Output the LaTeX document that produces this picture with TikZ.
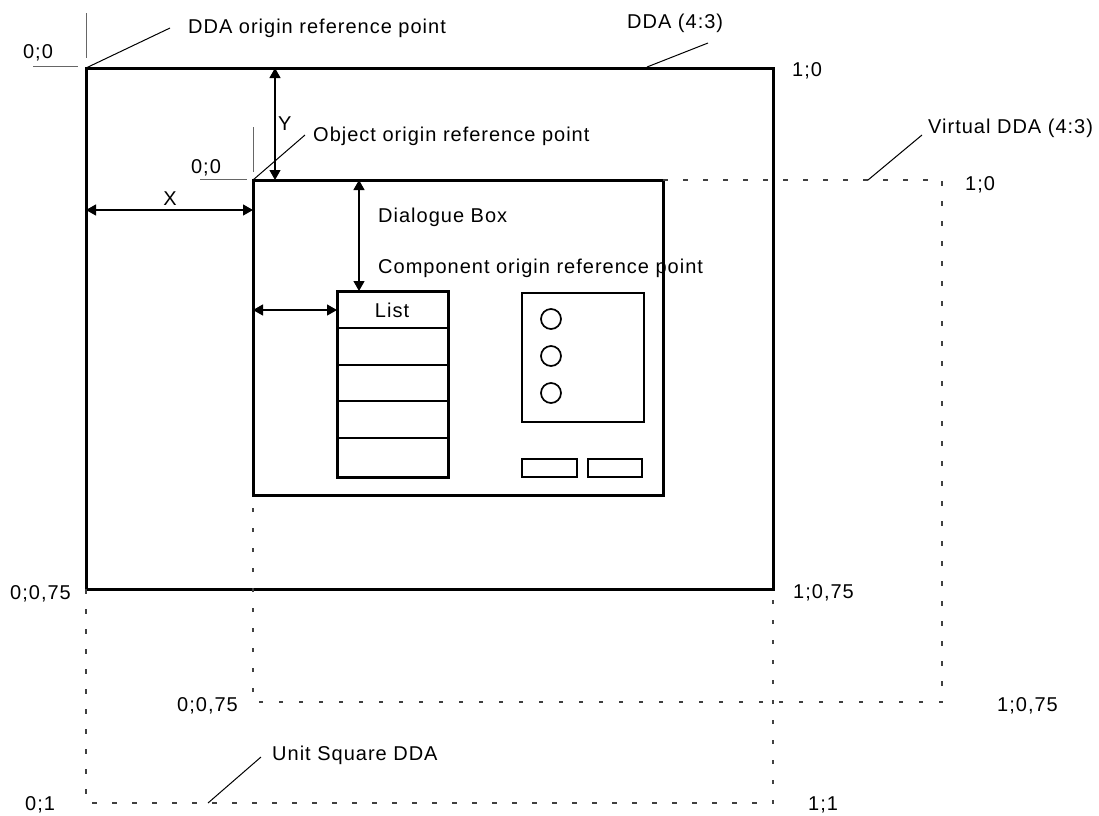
\documentclass[tikz,border=0pt]{standalone}
\usepackage{fontspec}
\setmainfont{Liberation Sans}[LetterSpace=5]
\usetikzlibrary{arrows.meta}
\begin{document}
\begin{tikzpicture}[x=1pt,y=-1pt,
  txt/.style={inner sep=0pt, font=\fontsize{20}{24}\selectfont, anchor=base west},
  frame/.style={line width=3pt, line join=miter},
  thinbox/.style={line width=2pt},
  tick/.style={line width=0.9pt, black!60},
  leader/.style={line width=1pt},
  dim/.style={line width=1.2pt, {Triangle[length=10pt,width=11pt]}-{Triangle[length=10pt,width=11pt]}},
  virt/.style={line width=1.1pt, black!75, dash pattern=on 4.5pt off 15.5pt}]
\path[fill=white] (0,0) rectangle (1099,815);
\useasboundingbox (0,0) rectangle (1099,815);
% corners
\coordinate (ddaTL) at (86,68);
\coordinate (ddaBR) at (773,589);
\coordinate (ddaBL) at (86,589);
\coordinate (ddaTR) at (773,68);
\coordinate (dlgTL) at (253,180);
\coordinate (dlgBR) at (663,495);
\coordinate (dlgTR) at (663,180);
\coordinate (dlgBL) at (253,495);
\coordinate (vTR) at (942,180);
\coordinate (vBR) at (942,702);
\coordinate (vBL) at (253,702);
\coordinate (uBL) at (86,803);
\coordinate (uBR) at (773,803);
% DDA and dialogue
\draw[frame] (ddaTL) rectangle (ddaBR);
\draw[frame] (dlgTL) rectangle (dlgBR);
% virtual DDA
\draw[virt] (dlgTR) -- (vTR) -- (vBR) -- (vBL) -- (dlgBL);
% unit square
\draw[virt] (ddaBL) -- (uBL) -- (uBR) -- (ddaBR);
% list
\coordinate (lstTL) at (337,291);
\coordinate (lstBR) at (448,477);
\draw[frame] (lstTL) rectangle (lstBR);
\foreach \yy/\nm in {328/r1,365/r2,401/r3,438/r4}{
  \coordinate (\nm a) at (337,\yy);
  \coordinate (\nm b) at (448,\yy);
  \draw[thinbox] (\nm a) -- (\nm b);
}
\node[txt, anchor=base] (list) at (392,317) {List};
% radio panel
\coordinate (radTL) at (522,293);
\coordinate (radBR) at (644,422);
\draw[thinbox] (radTL) rectangle (radBR);
\foreach \yy/\nm in {319/c1,356/c2,393/c3}{
  \node[circle, draw, line width=1.7pt, minimum size=20pt, inner sep=0pt] (\nm) at (551,\yy) {};
}
% buttons
\coordinate (b1a) at (522,459); \coordinate (b1b) at (577,477);
\coordinate (b2a) at (588,459); \coordinate (b2b) at (642,477);
\draw[thinbox] (b1a) rectangle (b1b);
\draw[thinbox] (b2a) rectangle (b2b);
% dimension arrows
\coordinate (yA) at (275,68); \coordinate (yB) at (275,180);
\draw[dim] (yA) -- (yB);
\coordinate (xA) at (86,210); \coordinate (xB) at (253,210);
\draw[dim] (xA) -- (xB);
\coordinate (cyA) at (359,180); \coordinate (cyB) at (359,291);
\draw[dim] (cyA) -- (cyB);
\coordinate (cxA) at (253,310); \coordinate (cxB) at (337,310);
\draw[dim] (cxA) -- (cxB);
% ticks
\coordinate (t1a) at (86,13); \coordinate (t1b) at (86,58);
\coordinate (t2a) at (33,66); \coordinate (t2b) at (78,66);
\coordinate (t3a) at (253,127); \coordinate (t3b) at (253,172);
\coordinate (t4a) at (200,179); \coordinate (t4b) at (247,179);
\draw[tick] (t1a) -- (t1b);
\draw[tick] (t2a) -- (t2b);
\draw[tick] (t3a) -- (t3b);
\draw[tick] (t4a) -- (t4b);
% leader ends
\coordinate (l1) at (170,28);
\coordinate (l2a) at (647,67); \coordinate (l2) at (708,43);
\coordinate (l3) at (305,135);
\coordinate (l4a) at (868,180); \coordinate (l4) at (922,135);
\coordinate (l5a) at (208,803); \coordinate (l5) at (261,757);
\draw[leader] (ddaTL) -- (l1);
\draw[leader] (l2a) -- (l2);
\draw[leader] (dlgTL) -- (l3);
\draw[leader] (l4a) -- (l4);
\draw[leader] (l5a) -- (l5);
% texts
\node[txt, anchor=base] (o1) at (38,58) {0;0};
\node[txt] (ddaorig) at (188,33) {DDA origin reference point};
\node[txt] (ddalbl) at (627,28) {DDA (4:3)};
\node[txt] (tr1) at (792,76) {1;0};
\node[txt] (ylbl) at (278,130) {Y};
\node[txt] (objorig) at (313,141) {Object origin reference point};
\node[txt, anchor=base] (o2) at (206,173) {0;0};
\node[txt, anchor=base] (xlbl) at (170,205) {X};
\node[txt] (vlbl) at (928,133) {Virtual DDA (4:3)};
\node[txt] (tr2) at (965,190) {1;0};
\node[txt] (dlg) at (378,222) {Dialogue Box};
\node[txt] (comp) at (378,273) {Component origin reference point};
\node[txt] (bl1) at (10,599) {0;0,75};
\node[txt] (br1) at (793,598) {1;0,75};
\node[txt] (bl2) at (177,711) {0;0,75};
\node[txt] (br2) at (997,711) {1;0,75};
\node[txt] (unit) at (272,760) {Unit Square DDA};
\node[txt] (bl3) at (25,810) {0;1};
\node[txt] (br3) at (808,810) {1;1};
\end{tikzpicture}
\end{document}
